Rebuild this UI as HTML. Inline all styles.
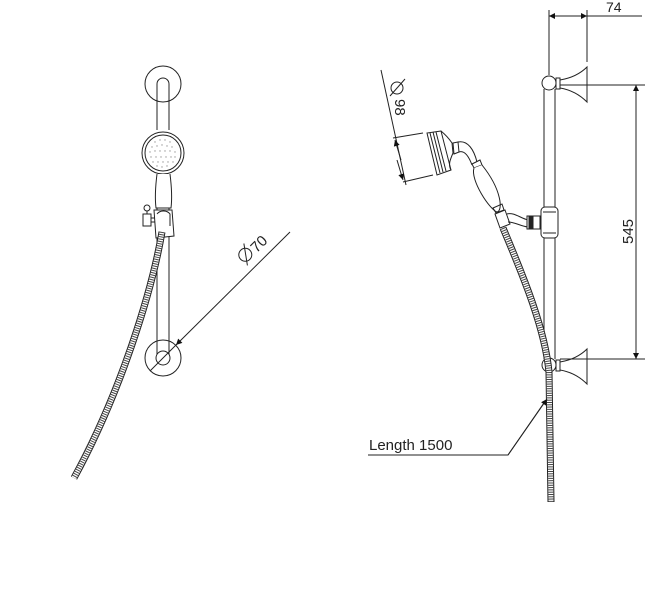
<!DOCTYPE html>
<html><head><meta charset="utf-8"><style>
html,body{margin:0;padding:0;background:#fff;}
svg{display:block;}
text{font-family:"Liberation Sans",sans-serif;fill:#222;}
</style></head><body>
<svg width="653" height="610" viewBox="0 0 653 610" xmlns="http://www.w3.org/2000/svg">
<defs>
<marker id="ar" viewBox="0 0 10 10" refX="10" refY="5" markerWidth="9" markerHeight="6" orient="auto-start-reverse" markerUnits="userSpaceOnUse"><path d="M0,0 L10,5 L0,10 z" fill="#111"/></marker>
</defs>
<g fill="none" stroke="#222" stroke-width="1">
<!-- LEFT VIEW -->
<circle cx="163" cy="84" r="18"/>
<path d="M157,130 L157,84 A6,6 0 0 1 169,84 L169,130"/>
<path d="M157,176 L157,357 M169,176 L169,357"/>
<circle cx="163" cy="358" r="18"/>
<circle cx="163" cy="358" r="7" fill="#fff"/>
<circle cx="163" cy="153" r="21" fill="#fff"/>
<circle cx="163" cy="153" r="18"/>
<g fill="#999" stroke="none">
<circle cx="155" cy="142" r=".7"/><circle cx="160" cy="140" r=".7"/><circle cx="165" cy="140" r=".7"/><circle cx="170" cy="142" r=".7"/>
<circle cx="152" cy="147" r=".7"/><circle cx="157" cy="146" r=".7"/><circle cx="162" cy="145" r=".7"/><circle cx="167" cy="146" r=".7"/><circle cx="172" cy="147" r=".7"/>
<circle cx="150" cy="152" r=".7"/><circle cx="155" cy="151" r=".7"/><circle cx="160" cy="151" r=".7"/><circle cx="165" cy="151" r=".7"/><circle cx="170" cy="151" r=".7"/><circle cx="175" cy="152" r=".7"/>
<circle cx="151" cy="157" r=".7"/><circle cx="156" cy="157" r=".7"/><circle cx="161" cy="157" r=".7"/><circle cx="166" cy="157" r=".7"/><circle cx="171" cy="157" r=".7"/><circle cx="175" cy="157" r=".7"/>
<circle cx="153" cy="162" r=".7"/><circle cx="158" cy="162" r=".7"/><circle cx="163" cy="162" r=".7"/><circle cx="168" cy="162" r=".7"/><circle cx="173" cy="162" r=".7"/>
<circle cx="157" cy="166" r=".7"/><circle cx="162" cy="167" r=".7"/><circle cx="167" cy="166" r=".7"/>
</g>
<path d="M157,174 C155,190 155,200 156,208 L171,208 C172,200 172,190 170,174" fill="#fff"/>
<path d="M154,210 L172,210 L174,236 L156,238 Z" fill="#fff"/>
<path d="M157,214 C160,210 167,210 170,214 L170,226"/>
<path d="M143,214 L151,214 L151,226 L143,226 Z M151,218 L155,218 M151,222 L155,222 M147,214 L147,210" fill="#fff"/>
<circle cx="147" cy="208" r="3" fill="#fff"/>
<!-- hose left -->
<path d="M162,232 C152,290 122,390 74,478" stroke="#222" stroke-width="7"/>
<path d="M162,232 C152,290 122,390 74,478" stroke="#fff" stroke-width="5"/>
<path d="M162,232 C152,290 122,390 74,478" stroke="#444" stroke-width="5" stroke-dasharray="1 1.3"/>
<!-- dim 70 -->
<line x1="290" y1="232" x2="176" y2="345" marker-end="url(#ar)"/>
<line x1="176" y1="345" x2="150" y2="371"/>
<!-- RIGHT VIEW -->
<path d="M544,89 L544,359 M555,89 L555,359"/>
<circle cx="549" cy="83" r="7" fill="#fff"/>
<circle cx="549" cy="365" r="7" fill="#fff"/>
<path d="M556,78 L560,78 L560,89 L556,89 Z"/>
<path d="M560,80 C572,78 580,74 587,67 L587,102 C580,95 572,90 560,88"/>
<path d="M556,360 L560,360 L560,371 L556,371 Z"/>
<path d="M560,362 C572,360 580,356 587,349 L587,384 C580,377 572,372 560,370"/>
<rect x="541" y="207" width="17" height="31" rx="4" fill="#fff"/>
<path d="M543,212 L556,212 M543,233 L556,233"/>
<!-- dim 74 -->
<path d="M549,10 L549,75 M587,10 L587,62"/>
<line x1="549" y1="16" x2="587" y2="16" marker-start="url(#ar)" marker-end="url(#ar)"/>
<line x1="587" y1="16" x2="642" y2="16"/>
<!-- dim 545 -->
<path d="M560,85 L645,85 M560,359 L645,359"/>
<line x1="636" y1="85" x2="636" y2="359" marker-start="url(#ar)" marker-end="url(#ar)"/>
<!-- hand shower -->
<path d="M441,131 L427,133 L437,175 L451,170 Z" fill="#fff"/>
<path d="M430,133 L440,173 M433,132 L443,172 M436,132 L446,171"/>
<path d="M441,131 C447,136 450,140 452,143 L453,153 C450,160 448,165 451,170"/>
<path d="M453,143 L458,142 L459,152 L454,154 Z"/>
<path d="M458,142 C468,140 474,150 477,162 M459,152 C465,150 469,157 472,165"/>
<path d="M472,164 L480,160 L482,165 L474,168 Z"/>
<path d="M474,168 C470,180 490,210 497,212 C503,211 502,190 482,165" fill="#fff"/>
<path d="M493,208 L502,204 L504,210 L496,213 Z"/>
<path d="M495,214 L505,210 L510,224 L500,228 Z" fill="#fff"/>
<path d="M507,214 C514,212 520,218 528,220 M508,222 C515,222 520,226 528,227"/>
<rect x="527" y="216" width="13" height="13" fill="#fff"/>
<rect x="529" y="217" width="4" height="11" fill="#222"/>
<!-- hose right -->
<path d="M503,228 C525,280 545,330 549,372 L551,502" stroke="#222" stroke-width="7"/>
<path d="M503,228 C525,280 545,330 549,372 L551,502" stroke="#fff" stroke-width="5"/>
<path d="M503,228 C525,280 545,330 549,372 L551,502" stroke="#444" stroke-width="5" stroke-dasharray="1 1.3"/>
<!-- dim 98 -->
<line x1="381" y1="70" x2="406" y2="185"/>
<path d="M393,138 L423,133 M403,182 L433,175"/>
<line x1="401" y1="160" x2="395" y2="140" marker-end="url(#ar)"/>
<line x1="397" y1="160" x2="403" y2="180" marker-end="url(#ar)"/>
<circle cx="397" cy="88" r="6"/>
<line x1="390" y1="96" x2="405" y2="79"/>
<!-- length leader -->
<path d="M368,455 L508,455 L546,400" />
<line x1="508" y1="455" x2="547" y2="399" marker-end="url(#ar)"/>
</g>
<!-- Ø70 label -->
<g transform="translate(246,264) rotate(-45)">
<circle cx="6" cy="-7" r="6.5" fill="none" stroke="#222" stroke-width="1"/>
<line x1="0" y1="2" x2="13" y2="-16" stroke="#222" stroke-width="1"/>
<text x="15" y="0" font-size="15">70</text>
</g>
<text transform="translate(395,99) rotate(90)" font-size="15">98</text>
<text x="606" y="12" font-size="14">74</text>
<text transform="translate(633,244) rotate(-90)" font-size="15">545</text>
<text x="369" y="450" font-size="15">Length 1500</text>
</svg>
</body></html>
